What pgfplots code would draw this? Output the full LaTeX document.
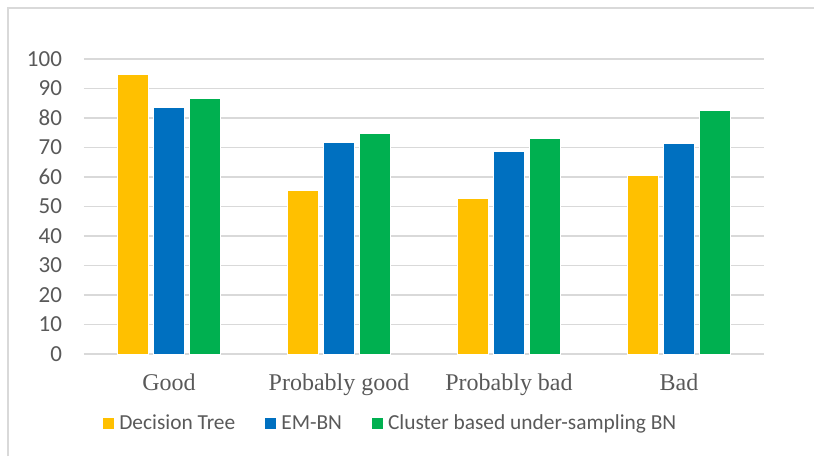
\documentclass[border=0pt]{standalone}
\usepackage{pgfplots}
\pgfplotsset{compat=1.18}
\usepackage{fontspec}
\setmainfont{Liberation Serif}
\newfontfamily\calibri{Carlito}
\definecolor{dtyellow}{HTML}{FFC000}
\definecolor{emblue}{HTML}{0070C0}
\definecolor{cbgreen}{HTML}{00B050}
\definecolor{txtgray}{HTML}{595959}
\definecolor{gridgray}{HTML}{D9D9D9}
\begin{document}
\begin{tikzpicture}
\useasboundingbox (0pt,0pt) rectangle (407pt,228pt);
% chart frame
\draw[gridgray, line width=0.6pt] (4pt,0pt) -- (4pt,224pt) -- (407pt,224pt);
\begin{axis}[
  at={(42pt,51pt)}, anchor=south west,
  scale only axis, width=340pt, height=147.5pt,
  xmin=-0.5, xmax=3.5, ymin=0, ymax=100,
  ybar=2.5pt, bar width=15.5pt,
  xtick={0,1,2,3},
  xticklabels={Good,Probably good,Probably bad,Bad},
  ytick={0,10,...,100},
  major tick length=0pt,
  axis lines*=left,
  x axis line style={gridgray, line width=0.75pt},
  y axis line style={draw=none},
  ymajorgrids, grid style={gridgray, line width=0.75pt},
  /pgf/number format/assume math mode=true,
  yticklabel style={font=\calibri\fontsize{11.5}{13}\selectfont, text=txtgray, xshift=-7.5pt},
  xticklabel style={font=\fontsize{12}{14}\selectfont, text=txtgray, yshift=-6.5pt},
  legend columns=3,
  legend style={at={(0.452,-0.237)}, anchor=center, draw=none, fill=none,
    font=\calibri\fontsize{10.7}{12}\selectfont, text=txtgray,
    /tikz/every even column/.append style={column sep=12.5pt}},
  legend image code/.code={\fill[#1] (0pt,-3pt) rectangle (6pt,3pt);},
  every axis plot/.append style={draw=white, line width=0.5pt},
]
\addplot[fill=dtyellow] coordinates {(0,94.7) (1,55.5) (2,52.7) (3,60.5)};
\addplot[fill=emblue] coordinates {(0,83.5) (1,71.8) (2,68.7) (3,71.5)};
\addplot[fill=cbgreen] coordinates {(0,86.7) (1,74.6) (2,73.1) (3,82.5)};
\legend{Decision Tree, EM-BN, Cluster based under-sampling BN}
\end{axis}
\end{tikzpicture}
\end{document}
